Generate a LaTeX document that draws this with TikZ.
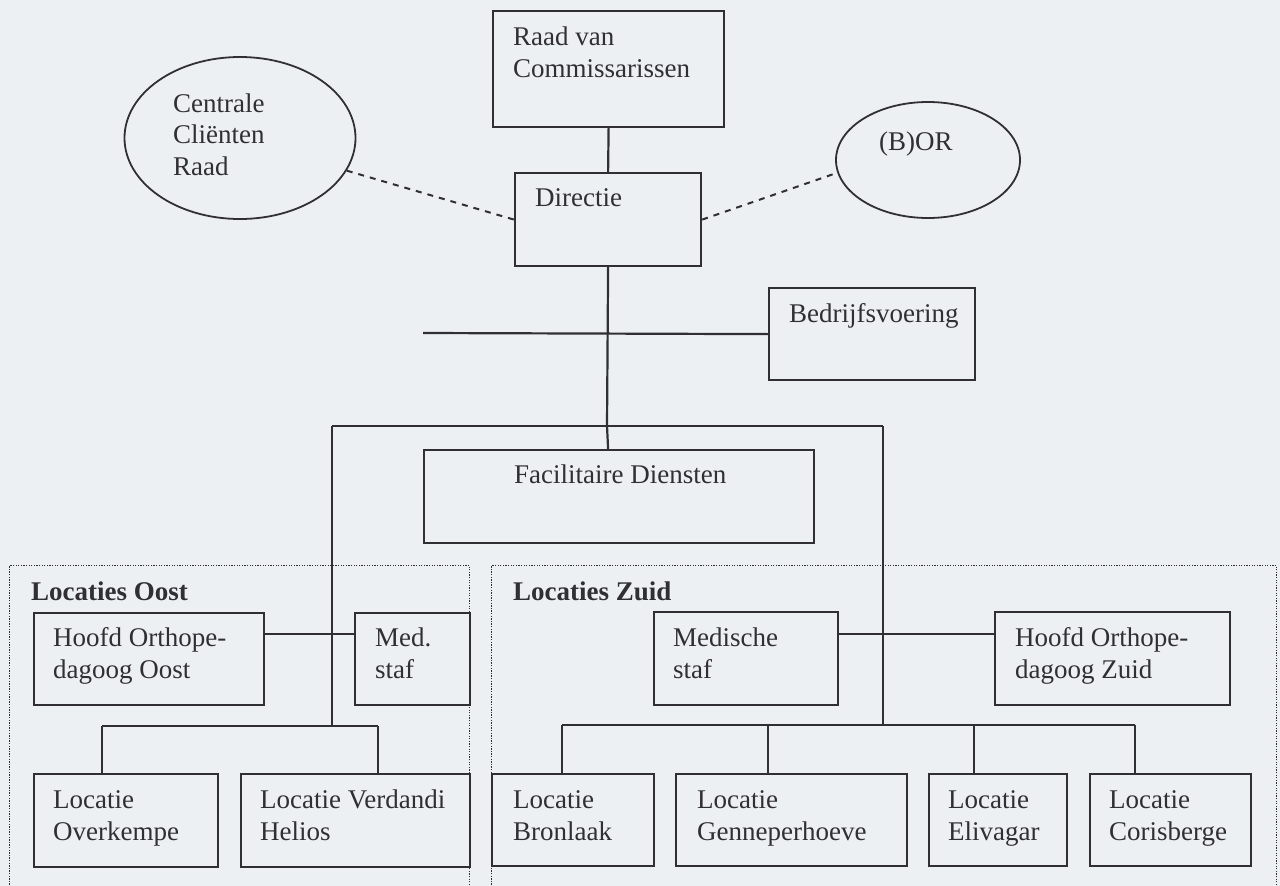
\documentclass[tikz,border=0pt]{standalone}
\usepackage{fontspec}
\setmainfont{Liberation Serif}
\usetikzlibrary{shapes.geometric}
\definecolor{bgc}{RGB}{237,240,243}
\definecolor{ink}{RGB}{48,48,52}
\begin{document}
\begin{tikzpicture}[x=1pt,y=-1pt,
 box/.style={draw=ink, line width=2.2pt, anchor=north west, inner sep=0pt},
 oval/.style={draw=ink, line width=1.8pt, ellipse, inner sep=0pt},
 grp/.style={draw=ink, line width=1.3pt, dash pattern=on 1.3pt off 1.3pt, anchor=north west, inner sep=0pt},
 lbl/.style={anchor=base west, align=left, inner sep=0pt, text=ink, font=\fontsize{27}{31.5}\selectfont},
 conn/.style={draw=ink, line width=2.2pt},
 dashc/.style={draw=ink, line width=2pt, dash pattern=on 6pt off 6pt},
]
\path[fill=bgc] (0,0) rectangle (1280,886);
\useasboundingbox (0,0) rectangle (1280,886);

% group frames
\node[grp, minimum width=460pt, minimum height=330pt] (grpO) at (9,565) {};
\node[grp, minimum width=785pt, minimum height=330pt] (grpZ) at (491,565) {};

% boxes
\node[box, minimum width=231pt, minimum height=116pt] (raad) at (492,10) {};
\node[box, minimum width=186pt, minimum height=93pt] (dir) at (514,172) {};
\node[box, minimum width=206pt, minimum height=92pt] (bed) at (768,287) {};
\node[box, minimum width=390pt, minimum height=93pt] (fac) at (423,449) {};
\node[box, minimum width=230pt, minimum height=92pt] (hoo) at (33,612) {};
\node[box, minimum width=115pt, minimum height=92pt] (meds) at (354,612) {};
\node[box, minimum width=184pt, minimum height=93pt] (msz) at (653,611) {};
\node[box, minimum width=235pt, minimum height=93pt] (hoz) at (994,611) {};
\node[box, minimum width=184pt, minimum height=93pt] (ovk) at (33,773) {};
\node[box, minimum width=229pt, minimum height=93pt] (ver) at (240,773) {};
\node[box, minimum width=162pt, minimum height=92pt] (bro) at (491,773) {};
\node[box, minimum width=231pt, minimum height=92pt] (gen) at (675,773) {};
\node[box, minimum width=138pt, minimum height=92pt] (eli) at (928,773) {};
\node[box, minimum width=161pt, minimum height=92pt] (cor) at (1089,773) {};

% ellipses
\node[oval, minimum width=231pt, minimum height=162pt] (ccr) at (240,138) {};
\node[oval, minimum width=184pt, minimum height=116pt] (bor) at (928,160) {};

% connectors
\coordinate (jD) at (607,426);
\coordinate (hl) at (423,333);
\coordinate (barL) at (332,426);
\coordinate (barR) at (883,426);
\coordinate (oJ) at (332,726);
\coordinate (oL) at (102,726);
\coordinate (oR) at (378,726);
\coordinate (oH) at (332,634);
\coordinate (zJ) at (883,725);
\coordinate (zA) at (562,725);
\coordinate (zB) at (768,725);
\coordinate (zC) at (974,725);
\coordinate (zD) at (1135,725);
\coordinate (zH) at (883,634);

\draw[conn] (raad.south) -- (dir.north);
\draw[conn] (dir.south) -- (jD);
\draw[conn] (jD) -- (dir.south |- fac.north);
\draw[conn] (hl) -- (bed.west);
\draw[conn] (barL) -- (barR);
\draw[conn] (barL) -- (oJ);
\draw[conn] (oL) -- (oR);
\draw[conn] (oL) -- (oL |- ovk.north);
\draw[conn] (oR) -- (oR |- ver.north);
\draw[conn] (oH -| hoo.east) -- (oH -| meds.west);
\draw[conn] (barR) -- (zJ);
\draw[conn] (zA) -- (zD);
\draw[conn] (zA) -- (zA |- bro.north);
\draw[conn] (zB) -- (zB |- gen.north);
\draw[conn] (zC) -- (zC |- eli.north);
\draw[conn] (zD) -- (zD |- cor.north);
\draw[conn] (zH -| msz.east) -- (zH -| hoz.west);
\draw[dashc] (ccr.-17) -- (dir.west);
\draw[dashc] (dir.east) -- (bor.188);

% texts (anchor = baseline of the last line)
\node[lbl] (traad) at (513,77) {Raad van\\Commissarissen};
\node[lbl] (tccr) at (173,175) {Centrale\\Cliënten\\Raad};
\node[lbl] (tdir) at (535,206) {Directie};
\node[lbl] (tbor) at (879,150) {(B)OR};
\node[lbl] (tbed) at (789,322) {Bedrijfsvoering};
\node[lbl] (tfac) at (514,483) {Facilitaire Diensten};
\node[lbl, font=\fontsize{27}{31.5}\selectfont\bfseries] (tgo) at (31,600) {Locaties Oost};
\node[lbl, font=\fontsize{27}{31.5}\selectfont\bfseries] (tgz) at (513,600) {Locaties Zuid};
\node[lbl] (thoo) at (53,678) {Hoofd Orthope-\\dagoog Oost};
\node[lbl] (tmeds) at (375,678) {Med.\\staf};
\node[lbl] (tmsz) at (673,678) {Medische\\staf};
\node[lbl] (thoz) at (1015,678) {Hoofd Orthope-\\dagoog Zuid};
\node[lbl] (tovk) at (53,840) {Locatie\\Overkempe};
\node[lbl] (tver) at (260,840) {Locatie Verdandi\\Helios};
\node[lbl] (tbro) at (513,840) {Locatie\\Bronlaak};
\node[lbl] (tgen) at (697,840) {Locatie\\Genneperhoeve};
\node[lbl] (teli) at (948,840) {Locatie\\Elivagar};
\node[lbl] (tcor) at (1109,840) {Locatie\\Corisberge};
\end{tikzpicture}
\end{document}
